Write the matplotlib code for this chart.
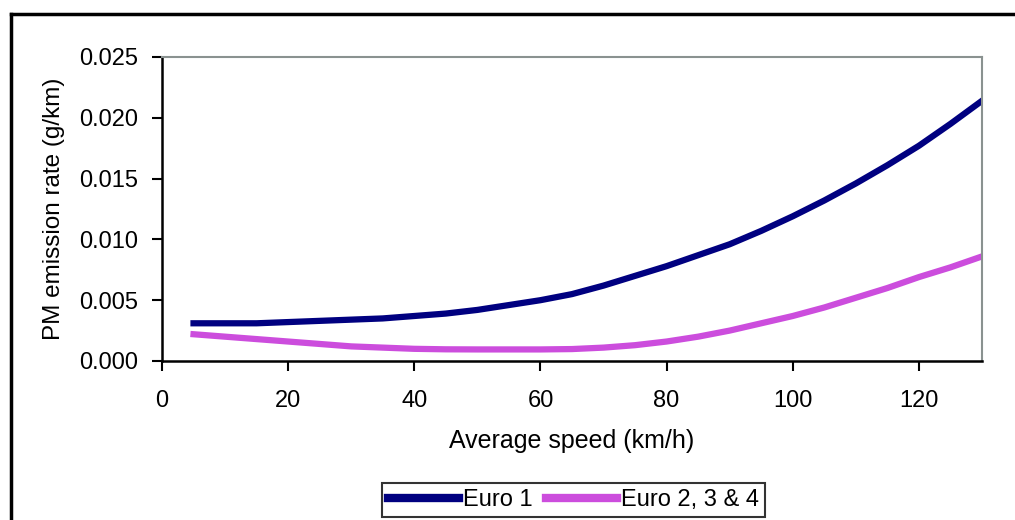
import matplotlib.pyplot as plt
import matplotlib

matplotlib.rcParams['font.family'] = ['Liberation Sans', 'DejaVu Sans']

# average speed (km/h)
speed = [5, 10, 15, 20, 25, 30, 35, 40, 45, 50, 55, 60, 65,
         70, 75, 80, 85, 90, 95, 100, 105, 110, 115, 120, 125, 130]

# PM emission rate (g/km)
euro1 = [0.0031, 0.0031, 0.0031, 0.0032, 0.0033, 0.0034, 0.0035, 0.0037,
         0.0039, 0.0042, 0.0046, 0.0050, 0.0055, 0.0062, 0.0070, 0.0078,
         0.0087, 0.0096, 0.0107, 0.0119, 0.0132, 0.0146, 0.0161, 0.0177,
         0.0195, 0.0214]
euro234 = [0.0022, 0.0020, 0.0018, 0.0016, 0.0014, 0.0012, 0.0011, 0.0010,
           0.00096, 0.00095, 0.00095, 0.00095, 0.00098, 0.0011, 0.0013,
           0.0016, 0.0020, 0.0025, 0.0031, 0.0037, 0.0044, 0.0052, 0.0060,
           0.0069, 0.0077, 0.0086]

x_ticks = [0, 20, 40, 60, 80, 100, 120]
y_ticks = [0.000, 0.005, 0.010, 0.015, 0.020, 0.025]

fig = plt.figure(figsize=(10.15, 5.2), dpi=100)
fig.patch.set_facecolor('white')

# outer chart frame (only top and left edges visible)
fig.add_artist(plt.Line2D([0.011, 1.0], [0.973, 0.973], color='black', lw=2.5,
                          transform=fig.transFigure))
fig.add_artist(plt.Line2D([0.011, 0.011], [0.0, 0.973], color='black', lw=2.5,
                          transform=fig.transFigure))

ax = fig.add_axes([0.1596, 0.3058, 0.8079, 0.5846])
ax.plot(speed, euro1, color='#000080', lw=4.5, label='Euro 1')
ax.plot(speed, euro234, color='#cc4ddd', lw=4.5, label='Euro 2, 3 & 4')

ax.set_xlim(0, 130)
ax.set_ylim(0, 0.025)
ax.set_xticks(x_ticks)
ax.set_yticks(y_ticks)
ax.set_yticklabels([f'{v:.3f}' for v in y_ticks])
ax.tick_params(axis='both', direction='out', length=7, width=1.5,
               labelsize=17, colors='black')
ax.tick_params(axis='x', pad=14)
ax.tick_params(axis='y', pad=10)

for side in ['left', 'bottom']:
    ax.spines[side].set_color('black')
    ax.spines[side].set_linewidth(1.8)
for side in ['top', 'right']:
    ax.spines[side].set_color('#8a9290')
    ax.spines[side].set_linewidth(1.5)

ax.set_xlabel('Average speed (km/h)', fontsize=18, labelpad=12)
ax.set_ylabel('PM emission rate (g/km)', fontsize=17.5, labelpad=10)

leg = fig.legend(loc='center', bbox_to_anchor=(0.565, 0.038), ncol=2,
                 fontsize=17, frameon=True, fancybox=False, handlelength=3.0,
                 handletextpad=0.15, columnspacing=0.6, borderpad=0.25,
                 borderaxespad=0)
leg.get_frame().set_edgecolor('black')
leg.get_frame().set_linewidth(1.5)
for line in leg.get_lines():
    line.set_linewidth(6)

fig.savefig('out.png', dpi=100)
